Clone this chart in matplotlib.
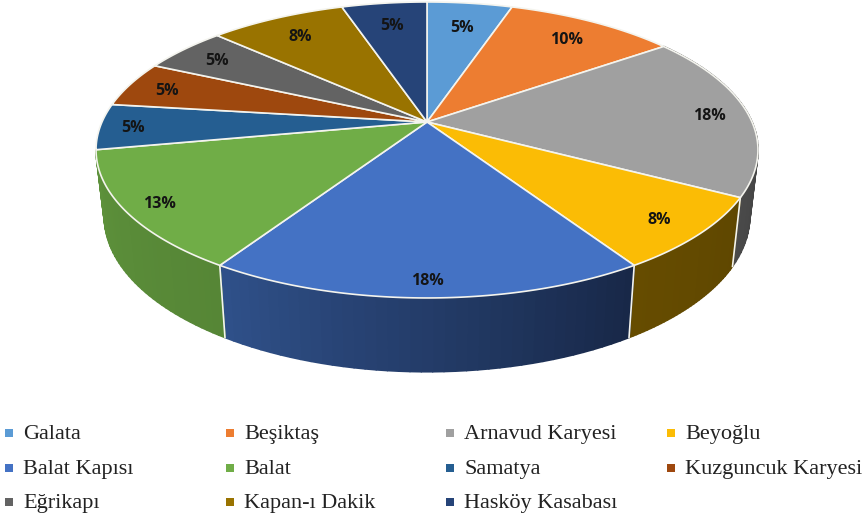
import numpy as np
import matplotlib
matplotlib.use("Agg")
import matplotlib.pyplot as plt
from matplotlib.collections import PolyCollection
from matplotlib.colors import to_rgb

names = ["Galata", "Beşiktaş", "Arnavud Karyesi", "Beyoğlu", "Balat Kapısı", "Balat",
         "Samatya", "Kuzguncuk Karyesi", "Eğrikapı", "Kapan-ı Dakik", "Hasköy Kasabası"]
values = [5, 10, 18, 8, 18, 13, 5, 5, 5, 8, 5]
colors = ["#5B9BD5", "#ED7D31", "#A0A0A0", "#FBBC05", "#4472C4", "#70AD47",
          "#255E91", "#9E480E", "#636363", "#997300", "#264478"]
# only these slices show a side wall in the picture
side_slices = [2, 3, 4, 5]
# side colours, start of slice -> end of slice (clockwise)
side_start = {2: "#333333", 3: "#5F4700", 4: "#182848", 5: "#568636"}
side_end = {2: "#4A4A4A", 3: "#664C00", 4: "#2F5089", 5: "#5D913B"}
# how far out each percent label sits on its slice
label_r = [0.78, 0.82, 0.88, 0.87, 0.91, 0.90, 0.90, 0.87, 0.85, 0.82, 0.80]

# pie geometry in pixels, disc goes through a perspective so the centre is not mid ellipse
cx, cy = 427, 122
R, Ry, k = 325, 142.7, 0.189


def project(theta, r=1.0):
    u = r * np.sin(theta)
    v = -r * np.cos(theta)
    w = 1 - k * v
    return cx + R * u / w, cy + Ry * v / w


def lower(x, y):
    return cx + (x - cx) * 0.975, cy + (y - cy) * 1.05 + 65


fig = plt.figure(figsize=(8.66, 5.18), dpi=100)
ax = fig.add_axes([0, 0, 1, 1])
ax.set_xlim(0, 866)
ax.set_ylim(518, 0)
ax.axis("off")

edges = np.radians(np.cumsum([0] + values) / sum(values) * 360)

# sides first, the top faces paint over the hidden part
for i in side_slices:
    th = np.linspace(edges[i], edges[i + 1], 40)
    x, y = project(th)
    xb, yb = lower(x, y)
    a, b = np.array(to_rgb(side_start[i])), np.array(to_rgb(side_end[i]))
    quads = []
    cols = []
    for j in range(len(th) - 1):
        quads.append([(x[j], y[j]), (x[j + 1], y[j + 1]), (xb[j + 1], yb[j + 1]), (xb[j], yb[j])])
        cols.append(a + (b - a) * j / (len(th) - 2))
    ax.add_collection(PolyCollection(quads, facecolors=cols, edgecolors=cols, linewidths=1.2, zorder=2))

# white seams on the side wall
for i in [3, 4, 5]:
    x, y = project(edges[i])
    xb, yb = lower(x, y)
    ax.plot([x, xb], [y, yb], color="#f4f4ee", lw=1.2, zorder=3)

for i in range(len(values)):
    th = np.linspace(edges[i], edges[i + 1], 80)
    x, y = project(th)
    ax.fill(np.r_[cx, x], np.r_[cy, y], facecolor=colors[i], edgecolor="#f4f4ee", lw=1.2,
            joinstyle="round", zorder=4)
    tx, ty = project((edges[i] + edges[i + 1]) / 2, label_r[i])
    ax.text(tx, ty + 2, f"{values[i]}%", ha="center", va="center", fontsize=11.5,
            fontweight="bold", family="Open Sans", color="#141414", zorder=5)

# legend, laid out by hand in 4 columns
col_x = [9, 230, 450, 671]
row_y = [433, 468, 502]
for i, name in enumerate(names):
    row, col = divmod(i, 4)
    ax.plot(col_x[col], row_y[row], marker="s", ms=5.5, color=colors[i], mew=0, zorder=5)
    ax.text(col_x[col] + 14, row_y[row] + 1.5, name, ha="left", va="center", fontsize=16,
            family="Liberation Serif", color="#222222")

fig.savefig("out.png", dpi=100)
